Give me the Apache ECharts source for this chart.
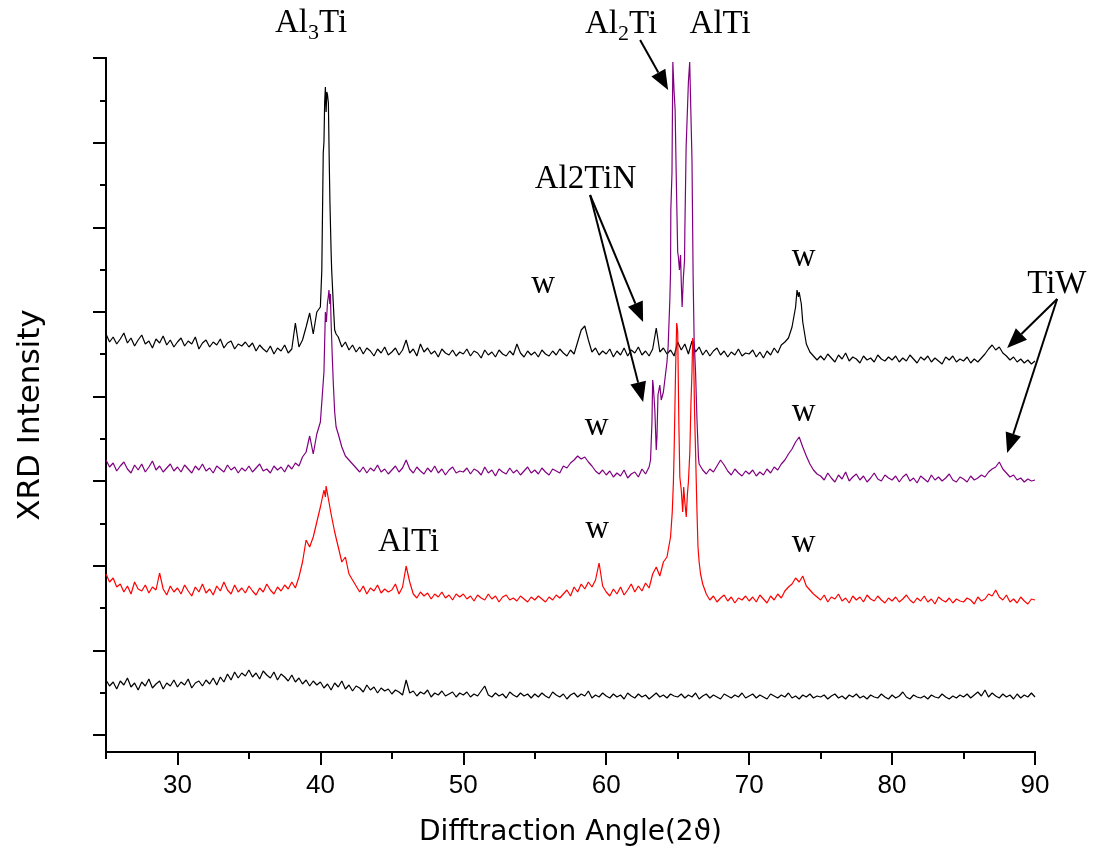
<!DOCTYPE html>
<html>
<head>
<meta charset="utf-8">
<script src="https://cdn.jsdelivr.net/npm/echarts@6/dist/echarts.min.js"></script>
<style>
  html, body { margin: 0; padding: 0; background: #fff; }
  #chart { width: 1093px; height: 857px; }
</style>
</head>
<body>
<div id="chart"></div>
<script>
// Scan grid: 2θ from 25° in 0.25° steps up to 90°
const angleStart = 25;
const angleStep = 0.25;
const angleTickLabels = [30, 40, 50, 60, 70, 80, 90];
const angleMinorTicks = [25, 35, 45, 55, 65, 75, 85];

// Lowest pattern (black), intensity in arbitrary units
const intensityA = [
  72,66,70,63,71,67,74,65,69,62,70,66,73,64,68,71,63,69,66,72,
  65,70,67,73,64,69,71,66,72,68,74,67,75,70,78,72,80,74,79,76,
  82,75,79,73,81,77,74,80,72,78,75,71,77,70,74,68,72,66,71,67,
  70,64,68,62,69,65,71,63,67,61,66,64,60,67,62,65,59,64,61,63,
  58,62,60,57,72,59,61,56,60,58,62,55,59,57,61,56,58,60,55,59,
  57,60,55,58,56,61,66,57,55,59,56,58,54,60,57,55,59,56,58,54,
  58,55,59,56,54,60,57,55,58,53,57,59,55,58,56,61,54,57,55,59,
  56,54,58,55,57,53,59,56,54,58,55,57,53,56,59,55,57,54,58,56,
  55,58,54,57,55,59,53,56,58,54,57,55,53,58,56,54,57,55,59,54,
  56,58,54,57,55,53,58,56,54,57,55,59,54,56,53,57,55,58,54,56,
  55,57,53,56,58,54,56,53,57,55,58,54,56,53,57,55,54,58,55,53,
  57,54,56,60,55,53,57,55,54,56,53,57,55,54,58,55,53,56,54,57,
  55,58,54,57,60,56,62,55,59,56,54,58,55,57,53,58,54,57,55,59,
  55
];
const peaksA = [];

// Second pattern (red)
const intensityB = [
  178,170,174,165,168,160,166,158,170,163,161,167,159,165,162,179,163,157,166,160,
  164,158,167,161,156,165,160,168,159,163,157,166,161,170,162,158,167,160,164,159,
  166,161,157,164,160,168,162,158,165,161,167,163,170,164,175,190,212,205,215,230,
  245,262,258,238,220,205,190,195,178,172,166,160,166,158,164,161,167,159,163,160,
  162,168,158,165,186,170,158,154,160,156,159,153,158,155,160,154,157,152,158,155,
  158,153,156,151,157,154,152,158,153,156,150,155,157,152,154,151,156,153,150,155,
  152,156,153,150,155,152,157,154,158,162,156,165,160,168,163,170,165,172,189,166,
  160,156,163,158,165,157,162,168,160,166,161,169,164,178,185,176,190,195,215,300,
  420,262,250,270,380,300,190,168,158,152,156,150,154,157,151,155,149,154,152,156,
  151,155,150,157,153,149,156,152,158,154,161,165,168,174,170,176,166,162,158,155,
  152,157,150,155,153,158,151,154,149,156,152,155,150,157,153,151,156,152,149,154,
  151,155,150,153,157,152,149,154,151,156,150,153,148,155,152,150,154,149,153,151,
  150,154,152,148,155,151,153,158,156,162,155,152,157,150,153,149,155,151,148,153,
  152
];
const peaksB = [
  [40.35,255],[40.4,266],[40.6,250],
  [64.62,240],[64.7,270],[64.85,380],[64.93,429],[64.97,425],[65.08,330],[65.15,275],
  [65.35,240],[65.42,265],[65.6,235],[65.68,258],[65.85,300],[65.93,350],[66.05,414],
  [66.1,410],[66.18,340],[66.35,240],[66.42,205],[66.6,178]
];

// Third pattern (purple)
const intensityC = [
  292,285,289,281,286,290,283,279,287,282,288,280,285,291,282,286,280,284,288,281,
  285,280,287,283,279,286,282,288,281,284,279,286,283,280,287,282,285,279,284,281,
  286,280,284,288,281,283,279,286,282,285,280,287,283,289,286,295,300,316,298,318,
  330,380,450,430,340,318,305,296,292,288,284,280,285,279,284,281,287,280,283,278,
  282,286,280,284,292,283,279,285,281,278,284,280,286,279,283,277,282,285,279,281,
  280,284,278,283,281,277,285,279,282,276,283,280,278,284,279,282,277,281,285,279,
  282,278,284,280,277,283,281,279,286,284,289,292,296,293,295,290,286,281,278,282,
  277,281,275,279,276,282,274,278,280,275,283,278,285,372,302,367,360,390,480,660,
  500,470,520,670,592,380,288,282,278,283,280,286,292,287,281,277,283,279,276,281,
  278,282,276,280,277,283,279,285,282,288,292,298,303,310,315,305,296,288,282,278,
  276,272,279,274,270,277,273,280,271,275,278,272,276,270,274,279,273,271,277,274,
  272,276,270,275,278,271,274,269,276,273,270,277,272,275,271,274,278,272,270,275,
  273,270,276,272,274,277,275,280,283,285,290,283,279,275,277,272,274,270,273,271,
  272
];
const peaksC = [
  [40.35,440],[40.42,430],[40.55,455],[40.6,462],[40.66,448],[40.7,458],[40.82,400],[40.9,370],[41.1,325],
  [63.1,292],[63.2,330],[63.3,365],[63.4,342],[63.55,315],[63.62,357],[63.85,352],[64.1,372],
  [64.33,405],[64.45,452],[64.52,542],[64.6,579],[64.66,690],[64.7,688],[64.82,642],[64.89,582],
  [65.05,495],[65.12,482],[65.2,497],[65.31,445],[65.4,475],[65.48,492],[65.59,605],[65.73,662],
  [65.84,690],[65.9,688],[66.08,475],[66.15,412],[66.35,332],[66.45,295]
];

// Top pattern (black)
const intensityD = [
  418,410,415,408,413,419,409,414,406,412,417,408,411,404,413,409,416,407,412,405,
  410,414,406,411,408,415,403,409,412,405,410,407,413,404,409,411,403,408,406,410,
  405,409,401,407,403,400,406,398,404,401,407,399,403,429,405,412,425,439,418,440,
  445,610,657,500,422,415,405,410,402,407,400,405,398,404,401,396,403,399,405,397,
  400,404,397,402,412,399,403,396,408,400,404,398,401,395,403,399,397,402,396,400,
  398,403,396,401,399,394,402,397,400,395,402,398,396,401,397,408,399,395,401,397,
  400,395,402,398,396,401,397,403,399,396,402,398,410,422,426,412,400,404,397,401,
  398,403,395,401,397,404,396,402,399,405,397,401,396,403,424,400,404,398,402,396,
  410,402,408,398,411,400,405,397,402,396,401,404,397,401,395,400,397,403,396,399,
  398,402,395,400,394,401,397,404,399,407,410,414,425,445,460,430,408,400,396,392,
  396,392,398,394,390,397,393,399,391,395,393,389,396,392,394,390,397,393,391,395,
  392,396,390,394,391,397,393,389,395,392,396,390,394,391,388,395,392,396,390,393,
  391,395,389,393,390,394,398,403,407,402,405,399,396,392,395,390,393,389,392,388,
  391
];
const peaksD = [
  [40.1,482],[40.2,599],[40.3,650],[40.35,665],[40.4,640],[40.45,660],[40.56,649],
  [40.62,590],[40.67,549],[40.79,482],[40.9,449],[41.1,418],
  [73.35,462],[73.45,455],[73.55,462],[73.65,448]
];

// Phase labels: text pieces (an inner array is a subscript), anchor [2θ, intensity] at the text middle
const phaseLabels = [
  { parts: ['Al', ['3'], 'Ti'], at: [39.35, 729] },
  { parts: ['Al', ['2'], 'Ti'], at: [61.04, 728] },
  { parts: ['AlTi'], at: [67.97, 728] },
  { parts: ['Al2TiN'], at: [58.55, 573] },
  { parts: ['w'], at: [55.58, 468] },
  { parts: ['w'], at: [73.81, 495] },
  { parts: ['TiW'], at: [89.45, 468], align: 'left' },
  { parts: ['w'], at: [59.33, 326] },
  { parts: ['w'], at: [73.81, 340] },
  { parts: ['AlTi'], at: [46.17, 210] },
  { parts: ['w'], at: [59.36, 223] },
  { parts: ['w'], at: [73.81, 209] }
];
// Pointer arrows: [from, to] in [2θ, intensity]
const phaseArrows = [
  [[62.37, 712], [64.33, 662]],
  [[58.87, 557], [62.58, 430]],
  [[58.87, 557], [62.58, 350]],
  [[91.55, 453], [88.05, 404]],
  [[91.55, 453], [88.05, 299]]
];

function buildPattern(grid, peaks) {
  const pts = grid.map((v, i) => [angleStart + i * angleStep, v]);
  return pts.concat(peaks).sort((a, b) => a[0] - b[0]);
}

const Y_MAX = 694;
const majorY = [];
const minorY = [];
for (let k = 0; k <= 8; k++) majorY.push(17 + k * 84.625);
for (let k = 0; k < 8; k++) minorY.push(17 + 42.3125 + k * 84.625);

const SANS = "'Liberation Sans', Arial, sans-serif";
const WIDE_SANS = "'DejaVu Sans', Verdana, sans-serif";
const SERIF_NAME = 'Liberation Serif';
const LABEL_SIZE = 33;
const SUB_SIZE = 22;

function lineSeries(name, data, color) {
  return {
    name, type: 'line', data, xAxisIndex: 0, yAxisIndex: 0,
    showSymbol: false, symbol: 'none', smooth: false,
    lineStyle: { color, width: 1.2 }, itemStyle: { color },
    emphasis: { disabled: true }, silent: true
  };
}

const axisLine = { show: true, onZero: false, lineStyle: { color: '#000', width: 2 } };

const option = {
  animation: false,
  backgroundColor: '#fff',
  grid: { left: 106, right: 58, top: 58, bottom: 105, containLabel: false },
  xAxis: [
    {
      type: 'value', position: 'bottom', min: 25, max: 90,
      axisLine,
      axisTick: { show: true, length: 13, customValues: angleTickLabels, lineStyle: { color: '#000', width: 2 } },
      axisLabel: { show: true, customValues: angleTickLabels, color: '#000', fontFamily: SANS, fontSize: 26, margin: 21 },
      splitLine: { show: false },
      name: 'Difftraction Angle(2ϑ)', nameLocation: 'middle', nameGap: 67,
      nameTextStyle: { fontFamily: WIDE_SANS, fontSize: 28, color: '#000' }
    },
    {
      type: 'value', position: 'bottom', min: 25, max: 90,
      axisLine,
      axisTick: { show: true, length: 7, customValues: angleMinorTicks, lineStyle: { color: '#000', width: 2 } },
      axisLabel: { show: false },
      splitLine: { show: false }
    }
  ],
  yAxis: [
    {
      type: 'value', position: 'left', min: 0, max: Y_MAX,
      axisLine,
      axisTick: { show: true, length: 13, customValues: majorY, lineStyle: { color: '#000', width: 2 } },
      axisLabel: { show: false },
      splitLine: { show: false },
      name: 'XRD Intensity', nameLocation: 'middle', nameGap: 60, nameRotate: 90,
      nameTextStyle: { fontFamily: WIDE_SANS, fontSize: 31, color: '#000', padding: [0, 20, 0, 0] }
    },
    {
      type: 'value', position: 'left', min: 0, max: Y_MAX,
      axisLine,
      axisTick: { show: true, length: 6, customValues: minorY, lineStyle: { color: '#000', width: 2 } },
      axisLabel: { show: false },
      splitLine: { show: false }
    }
  ],
  series: [
    lineSeries('A', buildPattern(intensityA, peaksA), '#000000'),
    lineSeries('D', buildPattern(intensityD, peaksD), '#000000'),
    lineSeries('B', buildPattern(intensityB, peaksB), '#ff0000'),
    lineSeries('C', buildPattern(intensityC, peaksC), '#800080')
  ]
};

const chart = echarts.init(document.getElementById('chart'), null, { renderer: 'canvas' });
chart.setOption(option);

// Phase annotations placed through the axis scales
const toPx = p => chart.convertToPixel({ seriesIndex: 0 }, p);
const measureCtx = document.createElement('canvas').getContext('2d');
function textWidth(t, size) {
  measureCtx.font = size + 'px "' + SERIF_NAME + '", serif';
  return measureCtx.measureText(t).width;
}
const elements = [];
phaseLabels.forEach(l => {
  const p = toPx(l.at);
  const pieces = l.parts.map(part => {
    const sub = Array.isArray(part);
    const t = sub ? part[0] : part;
    const size = sub ? SUB_SIZE : LABEL_SIZE;
    return { t, sub, size, w: textWidth(t, size) };
  });
  const total = pieces.reduce((s, q) => s + q.w, 0);
  let x = l.align === 'left' ? p[0] : p[0] - total / 2;
  pieces.forEach(q => {
    elements.push({
      type: 'text', silent: true, z: 100,
      x: x, y: q.sub ? p[1] + 10.5 : p[1],
      style: {
        text: q.t, fill: '#000', align: 'left', verticalAlign: 'middle',
        font: q.size + 'px "' + SERIF_NAME + '", serif'
      }
    });
    x += q.w;
  });
});
const HEAD_LEN = 20, HEAD_HALF = 8;
phaseArrows.forEach(([from, to]) => {
  const p0 = toPx(from), p1 = toPx(to);
  const dx = p1[0] - p0[0], dy = p1[1] - p0[1];
  const len = Math.hypot(dx, dy);
  const ux = dx / len, uy = dy / len;
  const bx = p1[0] - ux * HEAD_LEN, by = p1[1] - uy * HEAD_LEN;
  elements.push({
    type: 'line', silent: true, z: 100,
    shape: { x1: p0[0], y1: p0[1], x2: bx, y2: by },
    style: { stroke: '#000', lineWidth: 2 }
  });
  elements.push({
    type: 'polygon', silent: true, z: 100,
    shape: { points: [[p1[0], p1[1]], [bx - uy * HEAD_HALF, by + ux * HEAD_HALF], [bx + uy * HEAD_HALF, by - ux * HEAD_HALF]] },
    style: { fill: '#000' }
  });
});
chart.setOption({ graphic: elements });
</script>
</body>
</html>
